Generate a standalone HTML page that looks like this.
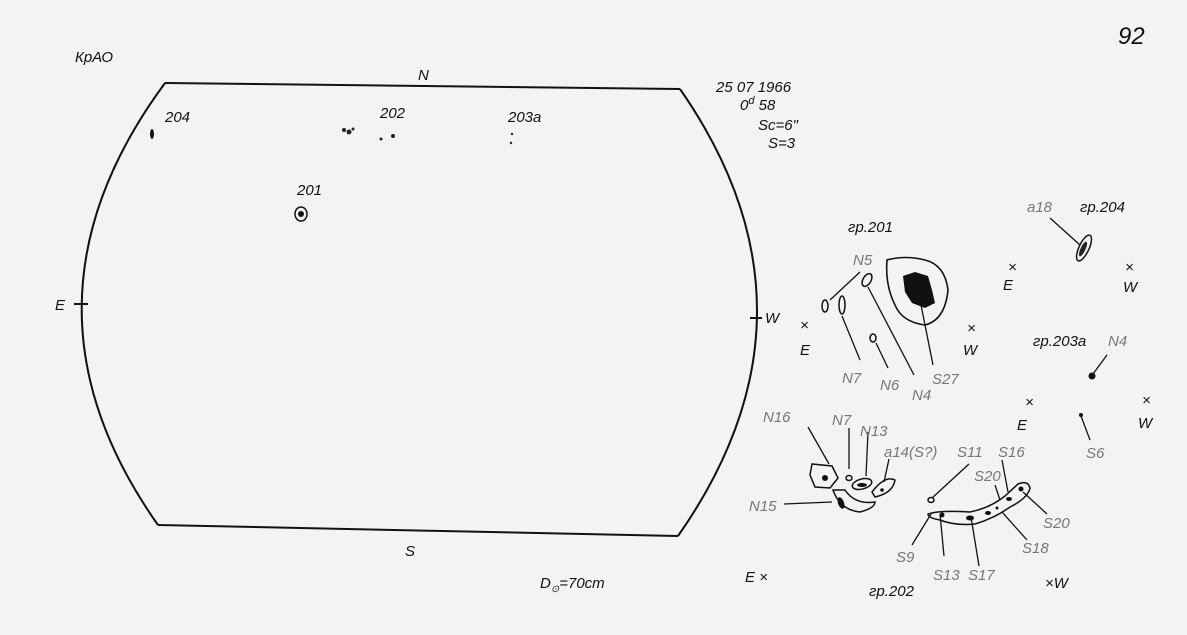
<!DOCTYPE html>
<html><head><meta charset="utf-8"><style>
html,body{margin:0;padding:0;background:#f3f3f1;}
svg{display:block}
text{font-family:"Liberation Sans",sans-serif;font-style:italic;}
.k{fill:#111;font-size:15px}
.g{fill:#777;font-size:15px}
</style></head><body>
<svg width="1187" height="635" viewBox="0 0 1187 635">
<rect width="1187" height="635" fill="#f3f3f1"/>
<g fill="none" stroke="#111" stroke-width="2">
<path d="M165,83 L680,89"/>
<path d="M158,525 L678,536"/>
<path d="M165,83 Q2,304 158,525"/>
<path d="M680,89 Q835,312 678,536"/>
<path d="M74,304 L88,304"/>
<path d="M750,318 L762,318"/>
</g>
<text class="k" x="1118" y="44" style="font-size:24px">92</text>
<text class="k" x="75" y="62">КрАО</text>
<text class="k" x="418" y="80">N</text>
<text class="k" x="405" y="556">S</text>
<text class="k" x="55" y="310">E</text>
<text class="k" x="765" y="323">W</text>
<text class="k" x="716" y="92">25 07 1966</text>
<text class="k" x="740" y="110">0<tspan font-size="11" dy="-6">d</tspan><tspan dy="6"> 58</tspan></text>
<text class="k" x="758" y="130">Sc=6"</text>
<text class="k" x="768" y="148">S=3</text>
<text class="k" x="165" y="122">204</text>
<text class="k" x="380" y="118">202</text>
<text class="k" x="508" y="122">203a</text>
<text class="k" x="297" y="195">201</text>
<text class="k" x="540" y="588">D<tspan font-size="10" dy="4">⊙</tspan><tspan dy="-4">=70cm</tspan></text>
<ellipse cx="152" cy="134" rx="2" ry="5" fill="#111"/>
<g fill="#222"><circle cx="344" cy="130" r="2"/><circle cx="349" cy="132" r="2.5"/><circle cx="353" cy="129" r="1.5"/><circle cx="381" cy="139" r="1.5"/><circle cx="393" cy="136" r="2"/><circle cx="512" cy="134" r="1.2"/><circle cx="511" cy="143" r="1.2"/></g>
<ellipse cx="301" cy="214" rx="6" ry="7" fill="none" stroke="#111" stroke-width="1.5"/>
<circle cx="301" cy="214" r="3" fill="#111"/>
<text class="k" x="848" y="232">гр.201</text>
<path d="M887,260 Q905,255 925,260 Q945,265 948,290 Q945,320 925,325 Q902,322 895,305 Q885,285 887,260Z" fill="none" stroke="#111" stroke-width="1.6"/>
<path d="M903,276 L915,272 L928,276 L932,290 L935,303 L925,308 L912,303 L905,292Z" fill="#111"/>
<ellipse cx="867" cy="280" rx="4" ry="7" transform="rotate(30 867 280)" fill="none" stroke="#111" stroke-width="1.5"/>
<ellipse cx="825" cy="306" rx="3" ry="6" fill="none" stroke="#111" stroke-width="1.5"/>
<ellipse cx="842" cy="305" rx="3" ry="9" fill="none" stroke="#111" stroke-width="1.5"/>
<ellipse cx="873" cy="338" rx="3" ry="4" fill="none" stroke="#111" stroke-width="1.5"/>
<g stroke="#111" stroke-width="1.3" fill="none">
<path d="M860,272 L830,300"/><path d="M842,316 L860,360"/><path d="M876,343 L888,368"/><path d="M868,287 L914,375"/><path d="M921,305 L933,365"/>
<path d="M1050,218 L1080,245"/><path d="M1107,355 L1093,374"/><path d="M1081,416 L1090,440"/>
<path d="M808,427 L829,464"/><path d="M849,428 L849,469"/><path d="M868,432 L866,476"/><path d="M889,459 L884,482"/><path d="M784,504 L832,502"/>
<path d="M969,464 L932,498"/><path d="M931,514 L912,545"/><path d="M940,514 L944,556"/><path d="M971,517 L979,566"/><path d="M995,485 L1000,500"/><path d="M1002,460 L1008,492"/><path d="M1023,492 L1047,514"/><path d="M1002,512 L1027,540"/>
</g>
<text class="g" x="853" y="265">N5</text>
<text class="g" x="842" y="383">N7</text>
<text class="g" x="880" y="390">N6</text>
<text class="g" x="912" y="400">N4</text>
<text class="g" x="932" y="384">S27</text>
<text class="k" x="800" y="330">×</text><text class="k" x="800" y="355">E</text>
<text class="k" x="967" y="333">×</text><text class="k" x="963" y="355">W</text>
<text class="k" x="1008" y="272">×</text><text class="k" x="1003" y="290">E</text>
<text class="k" x="1125" y="272">×</text><text class="k" x="1123" y="292">W</text>
<text class="g" x="1027" y="212">a18</text>
<text class="k" x="1080" y="212">гр.204</text>
<ellipse cx="1084" cy="248" rx="5" ry="14" transform="rotate(25 1084 248)" fill="none" stroke="#111" stroke-width="1.5"/>
<ellipse cx="1083" cy="249" rx="2.5" ry="8" transform="rotate(25 1083 249)" fill="#222"/>
<text class="k" x="1033" y="346">гр.203a</text>
<text class="g" x="1108" y="346">N4</text>
<circle cx="1092" cy="376" r="3.5" fill="#111"/>
<circle cx="1081" cy="415" r="2" fill="#111"/>
<text class="g" x="1086" y="458">S6</text>
<text class="k" x="1025" y="407">×</text><text class="k" x="1017" y="430">E</text>
<text class="k" x="1142" y="405">×</text><text class="k" x="1138" y="428">W</text>
<text class="g" x="763" y="422">N16</text>
<text class="g" x="832" y="425">N7</text>
<text class="g" x="860" y="436">N13</text>
<text class="g" x="884" y="457">a14(S?)</text>
<text class="g" x="749" y="511">N15</text>
<g fill="none" stroke="#111" stroke-width="1.5">
<path d="M812,464 L832,466 L838,478 L830,488 L815,487 L810,475Z"/>
<path d="M833,490 Q840,510 860,512 Q875,508 875,502 Q855,505 845,490Z"/>
<ellipse cx="849" cy="478" rx="3" ry="2.5"/>
<ellipse cx="862" cy="484" rx="10" ry="5" transform="rotate(-15 862 484)"/>
<path d="M872,492 Q885,475 895,480 Q893,493 875,497Z"/>
<ellipse cx="931" cy="500" rx="3" ry="2.5"/>
<path d="M928,514 Q940,510 970,512 Q990,508 1005,496 L1018,484 Q1028,480 1030,488 Q1028,498 1010,507 Q995,518 975,524 Q955,526 940,520 Q928,518 928,514Z"/>
</g>
<g fill="#111">
<circle cx="825" cy="478" r="3"/><ellipse cx="841" cy="503" rx="3" ry="6" transform="rotate(-20 841 503)"/>
<ellipse cx="862" cy="485" rx="5" ry="2"/><circle cx="882" cy="490" r="1.8"/>
<circle cx="942" cy="515" r="2.5"/><ellipse cx="970" cy="518" rx="4" ry="2.5"/><ellipse cx="988" cy="513" rx="3" ry="2"/><circle cx="997" cy="508" r="1.5"/><ellipse cx="1009" cy="499" rx="3" ry="2"/><circle cx="1021" cy="489" r="2.5"/>
</g>
<text class="g" x="957" y="457">S11</text>
<text class="g" x="998" y="457">S16</text>
<text class="g" x="974" y="481">S20</text>
<text class="g" x="1043" y="528">S20</text>
<text class="g" x="1022" y="553">S18</text>
<text class="g" x="896" y="562">S9</text>
<text class="g" x="933" y="580">S13</text>
<text class="g" x="968" y="580">S17</text>
<text class="k" x="745" y="582">E ×</text>
<text class="k" x="1045" y="588">×W</text>
<text class="k" x="869" y="596">гр.202</text>
</svg>
</body></html>
